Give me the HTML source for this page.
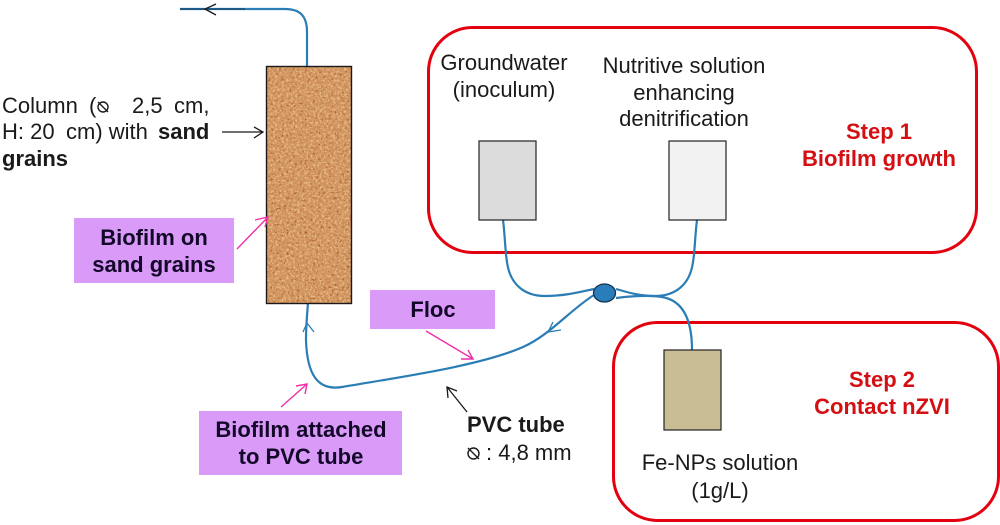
<!DOCTYPE html>
<html>
<head>
<meta charset="utf-8">
<style>
html,body{margin:0;padding:0;background:#fff;width:1000px;height:525px;overflow:hidden}
svg{display:block}
text{font-family:"Liberation Sans",sans-serif;font-size:22px;fill:#1a1a1a}
.b{font-weight:bold}
.p{font-weight:bold;font-size:22px;fill:#14082a;text-anchor:middle}
.r{font-weight:bold;font-size:22px;fill:#d40f14;text-anchor:middle}
.m{text-anchor:middle}
.tube{fill:none;stroke:#2a7db5;stroke-width:2.2}
.blk{fill:none;stroke:#1a1a1a;stroke-width:1.3}
.pnk{fill:none;stroke:#ee2fa8;stroke-width:1.4}
</style>
</head>
<body>
<svg width="1000" height="525" viewBox="0 0 1000 525" xmlns="http://www.w3.org/2000/svg">
<defs>
<filter id="sandL" x="0" y="0" width="100%" height="100%" color-interpolation-filters="sRGB">
<feTurbulence type="fractalNoise" baseFrequency="0.45" numOctaves="2" seed="7"/>
<feColorMatrix type="matrix" values="0 0 0 0 0.90  0 0 0 0 0.72  0 0 0 0 0.52  5 0 0 0 -2.4"/>
</filter>
<filter id="sandD" x="0" y="0" width="100%" height="100%" color-interpolation-filters="sRGB">
<feTurbulence type="fractalNoise" baseFrequency="0.38" numOctaves="3" seed="21"/>
<feColorMatrix type="matrix" values="0 0 0 0 0.68  0 0 0 0 0.38  0 0 0 0 0.18  0 5 0 0 -3"/>
</filter>
</defs>

<!-- red step boxes -->
<rect x="428.5" y="27.5" width="548" height="225" rx="44" fill="none" stroke="#e3000f" stroke-width="3"/>
<rect x="613.5" y="322.5" width="385" height="198" rx="44" fill="none" stroke="#e3000f" stroke-width="3"/>

<!-- tubes -->
<path class="tube" d="M180 9 L285 9 C300 9 307 16 307 32 L307 66"/>
<path class="tube" d="M503 220 C505 235 505 250 507 262 C510 285 525 296 545 296 C565 296 580 292 594 289"/>
<path class="tube" d="M697 220 C695 235 695 250 693 262 C690 285 675 296 655 296 C640 296 630 293 616 289"/>
<path class="tube" d="M616 298 C630 296 650 295 662 297 C680 300 692 315 692 350"/>
<path class="tube" d="M594 295 C570 310 550 335 523 347 C480 366 400 377 342 387 C318 391 307 375 306 340 C306 325 307 315 308 303"/>
<path d="M180 9 L245 9" fill="none" stroke="#123048" stroke-width="1.5" opacity=".6"/>

<!-- column -->
<rect x="266.5" y="66.5" width="85" height="237" fill="#d0935d"/>
<rect x="266.5" y="66.5" width="85" height="237" fill="#fff" filter="url(#sandL)"/>
<rect x="266.5" y="66.5" width="85" height="237" fill="#fff" filter="url(#sandD)"/>
<rect x="266.5" y="66.5" width="85" height="237" fill="none" stroke="#1a1a1a" stroke-width="1.4"/>

<!-- tube arrowheads -->
<path class="tube" style="stroke-width:1.3" d="M303 332 L307 323 L314 332"/>
<path class="tube" style="stroke-width:1.3" d="M553 322 L548 332 L561 330"/>
<path d="M216 4 L205 9 L216 15" class="blk"/>

<!-- containers -->
<rect x="479" y="141" width="57" height="79" fill="#dcdcdc" stroke="#222" stroke-width="1.2"/>
<rect x="669" y="141" width="57" height="79" fill="#f2f2f2" stroke="#222" stroke-width="1.2"/>
<rect x="664" y="350" width="57" height="80" fill="#c9bd94" stroke="#222" stroke-width="1.2"/>

<!-- junction -->
<ellipse cx="604.5" cy="293" rx="11" ry="9" fill="#2a7dbb" stroke="#12324a" stroke-width="1.3"/>

<!-- purple labels -->
<rect x="74" y="218" width="160" height="65" fill="#d99bf7"/>
<rect x="370" y="290" width="125" height="39" fill="#d99bf7"/>
<rect x="199" y="411" width="203" height="64" fill="#d99bf7"/>

<text class="p" x="154" y="245">Biofilm on</text>
<text class="p" x="154" y="272">sand grains</text>
<text class="p" x="433" y="317">Floc</text>
<text class="p" x="301" y="437">Biofilm attached</text>
<text class="p" x="301" y="464">to PVC tube</text>

<!-- column label -->
<text x="2" y="113">Column</text>
<text x="89" y="113">(</text>
<circle cx="103" cy="107" r="5" fill="none" stroke="#1a1a1a" stroke-width="1.4"/>
<path d="M98 102 L108 112" class="blk"/>
<text x="132" y="113">2,5</text>
<text x="174" y="113">cm,</text>
<text x="2" y="139">H: 20</text>
<text x="66" y="139">cm) with</text>
<text x="158" y="139" class="b">sand</text>
<text x="2" y="166" class="b">grains</text>

<!-- black arrows -->
<path class="blk" d="M222 132 L263 132 M254 127 L263 132 L254 138"/>
<path class="blk" d="M467 412 L447 387 M448 398 L447 387 L457 391"/>

<!-- pink arrows -->
<path class="pnk" d="M237 249 L268 217 M255 220 L268 217 L265 227"/>
<path class="pnk" d="M426 331 L473 359 M461 359 L473 359 L468 350"/>
<path class="pnk" d="M281 407 L307 384 M296 386 L307 384 L305 394"/>

<!-- PVC text -->
<text x="467" y="432" class="b">PVC tube</text>
<circle cx="473.5" cy="453.5" r="5.5" fill="none" stroke="#1a1a1a" stroke-width="1.4"/>
<path d="M468 448 L479 459" class="blk"/>
<text x="486" y="460">: 4,8 mm</text>

<!-- container labels -->
<text class="m" x="504" y="70">Groundwater</text>
<text class="m" x="504" y="97">(inoculum)</text>
<text class="m" x="684" y="73">Nutritive solution</text>
<text class="m" x="684" y="100">enhancing</text>
<text class="m" x="684" y="126">denitrification</text>
<text class="m" x="720" y="470">Fe-NPs solution</text>
<text class="m" x="720" y="498">(1g/L)</text>

<!-- step labels -->
<text class="r" x="879" y="139">Step 1</text>
<text class="r" x="879" y="166">Biofilm growth</text>
<text class="r" x="882" y="387">Step 2</text>
<text class="r" x="882" y="414">Contact nZVI</text>
</svg>
</body>
</html>
